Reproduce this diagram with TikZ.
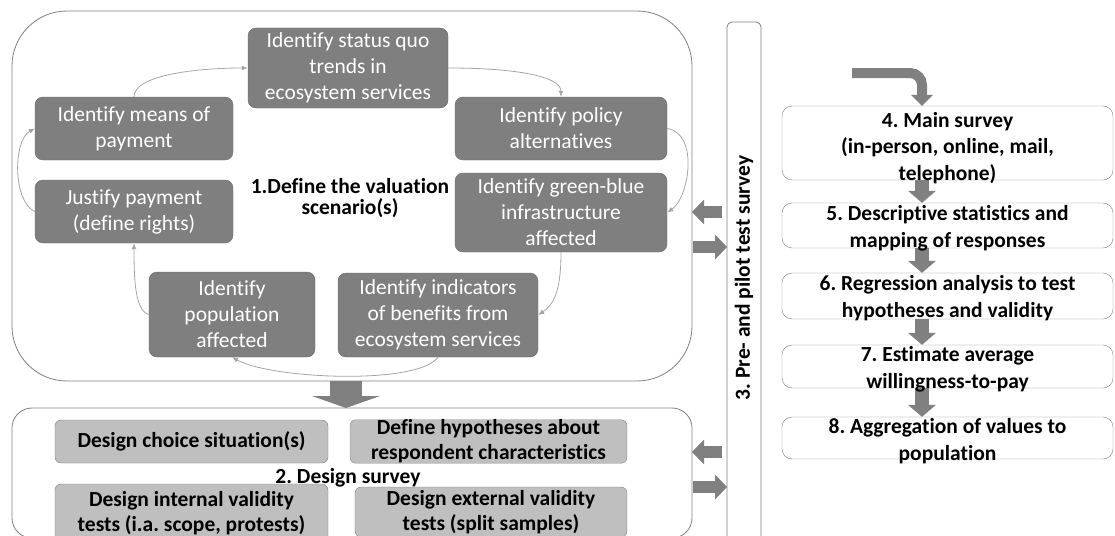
\documentclass[tikz,border=0pt]{standalone}
\usepackage{fontspec}
\setmainfont{Carlito}[Ligatures=CommonOff]
\usepackage{tikz}
\usetikzlibrary{arrows.meta,positioning,calc}
\frenchspacing
\definecolor{boxfill}{HTML}{7F7F7F}
\definecolor{boxedge}{HTML}{6A6A6A}
\definecolor{palefill}{HTML}{BFBFBF}
\definecolor{paleedge}{HTML}{7F7F7F}
\definecolor{frameline}{HTML}{7F7F7F}
\definecolor{linkline}{HTML}{A5A5A5}
\definecolor{arrowfill}{HTML}{808080}

\begin{document}
\begin{tikzpicture}[x=1pt,y=-1pt,
  frame/.style={draw=frameline, line width=0.8pt, inner sep=0pt, outer sep=0pt},
  darkbox/.style={draw=boxedge, fill=boxfill, rounded corners=8pt, text=white, align=center, inner sep=1pt, font=\fontsize{21.5}{26}\selectfont},
  palebox/.style={draw=paleedge, fill=palefill, rounded corners=6pt, align=center, inner sep=0pt, font=\bfseries\fontsize{21.5}{25}\selectfont},
  stepbox/.style={draw=frameline, rounded corners=10pt, minimum width=331pt, inner sep=0pt},
  steptext/.style={align=center, inner sep=0pt, font=\bfseries\fontsize{21.5}{26.5}\selectfont},
  link/.style={draw=linkline, line width=0.8pt, -{Latex[length=6pt,width=5pt]}},
  bigarrow/.style={draw=arrowfill, line width=32pt, -{Triangle[length=12pt,width=68pt,line width=0pt]}},
  sidearrow/.style={draw=arrowfill, line width=12pt, -{Triangle[length=12pt,width=25pt,line width=0pt]}},
  downarrow/.style={draw=arrowfill, line width=14pt, -{Triangle[length=12pt,width=28pt,line width=0pt]}}]
  \useasboundingbox (0,0) rectangle (1115,535);

  \node[frame, rounded corners=55pt, minimum width=680pt, minimum height=370pt] (stage1) at (352,196) {};
  \node[frame, rounded corners=20pt, minimum width=680pt, minimum height=130pt] (stage2) at (352,473) {};
  \node[frame, rounded corners=5pt, minimum width=34pt, minimum height=540pt] (bar) at (744,292) {};
  \node[rotate=90, font=\bfseries\fontsize{21.5}{26}\selectfont] (pilot) at (744,278) {3. Pre- and pilot test survey};

  \node[darkbox, minimum width=200pt, minimum height=80pt] (sq) at (348,68) {Identify status quo\\trends in\\ecosystem services};
  \node[darkbox, minimum width=198pt, minimum height=63pt] (pay) at (134,128.5) {Identify means of\\payment};
  \node[darkbox, minimum width=212pt, minimum height=63pt] (pol) at (561,128.5) {Identify policy\\alternatives};
  \node[darkbox, minimum width=198pt, minimum height=63pt] (jus) at (134,211.5) {Justify payment\\(define rights)};
  \node[darkbox, minimum width=212pt, minimum height=79pt] (gbi) at (561,212.5) {Identify green-blue\\infrastructure\\affected};
  \node[darkbox, minimum width=166pt, minimum height=85pt] (pop) at (232,314.5) {Identify\\population\\affected};
  \node[darkbox, minimum width=200pt, minimum height=84pt] (ind) at (438,315) {Identify indicators\\of benefits from\\ecosystem services};
  \node[align=center, font=\bfseries\fontsize{21.5}{21}\selectfont] (lbl1) at (350,198) {1.Define the valuation\\scenario(s)};

  \draw[link] (pay.north) .. controls +(0,-22) and +(-50,0) .. (sq.west);
  \draw[link] (sq.east) .. controls +(70,0) and +(0,-20) .. (pol.north);
  \draw[link] (pol.east) .. controls +(32,5) and +(22,-15) .. (gbi.east);
  \draw[link] (gbi.south) .. controls +(0,40) and +(15,-10) .. (ind.east);
  \draw[link] (ind.south) .. controls +(-20,28) and +(40,22) .. (pop.south);
  \draw[link] (pop.west) .. controls +(-14,-4) and +(0,35) .. (jus.south);
  \draw[link] (jus.west) .. controls +(-22,-10) and +(-22,12) .. (pay.west);

  \draw[bigarrow] ([xshift=-6pt]stage1.south) -- ([xshift=-6pt]stage2.north);

  \node[palebox, minimum width=273pt, minimum height=43pt] (choice) at (191.5,441.5) {Design choice situation(s)};
  \node[palebox, minimum width=277pt, minimum height=43pt] (hypo) at (488.5,441.5) {Define hypotheses about\\respondent characteristics};
  \node[palebox, minimum width=273pt, minimum height=58pt] (intval) at (191.5,513) {Design internal validity\\tests (i.a. scope, protests)};
  \node[palebox, minimum width=272pt, minimum height=50pt] (extval) at (491,512) {Design external validity\\tests (split samples)};
  \node[font=\bfseries\fontsize{21.5}{26}\selectfont] (lbl2) at (348,478) {2. Design survey};

  \coordinate (back1) at (722,212);
  \coordinate (out1) at (693,247);
  \coordinate (back2) at (722,452);
  \coordinate (out2) at (693,487);
  \draw[sidearrow] (back1) -- (back1 -| stage1.east);
  \draw[sidearrow] (out1) -- (out1 -| bar.west);
  \draw[sidearrow] (back2) -- (back2 -| stage2.east);
  \draw[sidearrow] (out2) -- (out2 -| bar.west);

  \node[stepbox, minimum height=74pt] (s4) at (947.5,143) {};
  \node[stepbox, minimum height=45pt] (s5) at (947.5,225.5) {};
  \node[stepbox, minimum height=46pt] (s6) at (947.5,296) {};
  \node[stepbox, minimum height=43pt] (s7) at (947.5,366.5) {};
  \node[stepbox, minimum height=42pt] (s8) at (947.5,438) {};

  \coordinate (feed) at (852,73);
  \draw[draw=arrowfill, line width=10pt, rounded corners=12pt, -{Triangle[length=11pt,width=22pt,line width=0pt]}] (feed) -| ([xshift=-25.5pt]s4.north);
  \draw[downarrow] ([xshift=-25.5pt]s4.south) -- ([xshift=-25.5pt]s5.north);
  \draw[downarrow] ([xshift=-25.5pt]s5.south) -- ([xshift=-25.5pt]s6.north);
  \draw[downarrow] ([xshift=-25.5pt]s6.south) -- ([xshift=-25.5pt]s7.north);
  \draw[downarrow] ([xshift=-25.5pt]s7.south) -- ([xshift=-25.5pt]s8.north);

  \node[steptext] (t4) at ([yshift=-5pt]s4.center) {4. Main survey\\(in-person, online, mail,\\telephone)};
  \node[steptext] (t5) at ([yshift=-3pt]s5.center) {5. Descriptive statistics and\\mapping of responses};
  \node[steptext] (t6) at ([yshift=-2pt]s6.center) {6. Regression analysis to test\\hypotheses and validity};
  \node[steptext] (t7) at ([yshift=-3pt]s7.center) {7. Estimate average\\willingness-to-pay};
  \node[steptext] (t8) at ([yshift=-3pt]s8.center) {8. Aggregation of values to\\population};
\end{tikzpicture}
\end{document}
